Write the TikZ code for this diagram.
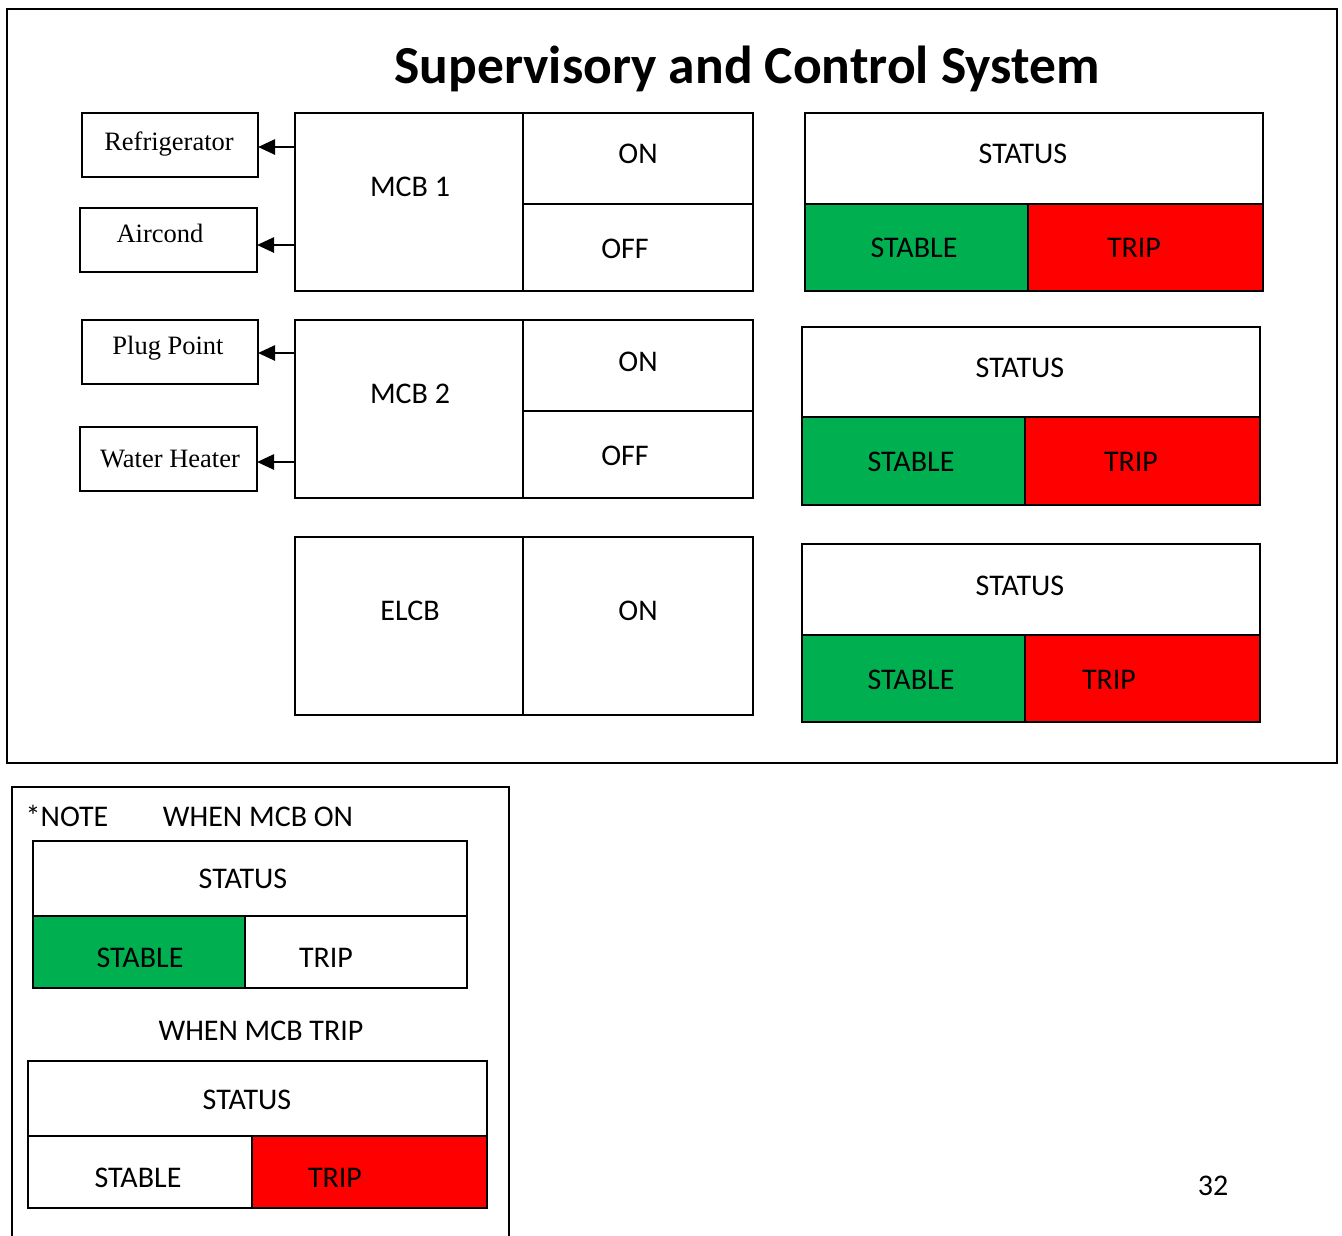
\documentclass[tikz,border=0pt]{standalone}
\usepackage{fontspec}
\setmainfont{Carlito}
\newfontfamily\devfont{Liberation Serif}
\usetikzlibrary{arrows.meta}
\definecolor{okgreen}{HTML}{00B050}
\definecolor{tripred}{HTML}{FF0000}

% \boxat{name}{x1}{y1}{x2}{y2}{options}: a rectangle given by its corners
\newcommand\boxat[6]{%
  \node[cellbox,minimum width={(#4)-(#2)},minimum height={(#5)-(#3)},#6]
    (#1) at ({((#2)+(#4))/2},{((#3)+(#5))/2}) {};}

\begin{document}
\begin{tikzpicture}[x=1pt,y=-1pt,
  cellbox/.style={draw, line width=2pt, rectangle, inner sep=0pt, outer sep=0pt},
  lbl/.style={anchor=base, inner sep=0pt, font=\fontsize{30}{35}\selectfont},
  dev/.style={anchor=base, inner sep=0pt, font=\devfont\fontsize{26.5}{30}\selectfont},
  feed/.style={line width=2.6pt, -{Triangle[length=17pt,width=15pt]}},
  frame/.style={draw, line width=2pt},
]
\useasboundingbox[fill=white] (0,0) rectangle (1342,1235);

% main panel
\draw[frame] (7,9) rectangle (1337,763);
\node[anchor=base, inner sep=0pt, font=\bfseries\fontsize{53.5}{60}\selectfont] (title)
  at (747,83) {Supervisory and Control System};

% loads
\boxat{refr}{82}{113}{258}{177}{}
\boxat{acon}{80}{208}{257}{272}{}
\boxat{plug}{82}{320}{258}{384}{}
\boxat{heat}{80}{427}{257}{491}{}
\node[dev] (trefr) at (169,150) {Refrigerator};
\node[dev] (tacon) at (160,242) {Aircond};
\node[dev] (tplug) at (168,354) {Plug Point};
\node[dev] (theat) at (170,467) {Water Heater};

% breakers
\boxat{mcba}{295}{113}{523}{291}{}
\boxat{mcbaon}{523}{113}{753}{204}{}
\boxat{mcbaoff}{523}{204}{753}{291}{}
\node[lbl] at (410,196) {MCB 1};
\node[lbl] at (638,163) {ON};
\node[lbl] at (625,258) {OFF};

\boxat{mcbb}{295}{320}{523}{498}{}
\boxat{mcbbon}{523}{320}{753}{411}{}
\boxat{mcbboff}{523}{411}{753}{498}{}
\node[lbl] at (410,403) {MCB 2};
\node[lbl] at (638,371) {ON};
\node[lbl] at (625,465) {OFF};

\boxat{elcb}{295}{537}{523}{715}{}
\boxat{elcbon}{523}{537}{753}{715}{}
\node[lbl] at (410,620) {ELCB};
\node[lbl] at (638,620) {ON};

% feeds to loads
\draw[feed] ([yshift=-2pt]refr.east -| mcba.west) -- ([yshift=-2pt]refr.east);
\draw[feed] ([yshift=-5pt]acon.east -| mcba.west) -- ([yshift=-5pt]acon.east);
\draw[feed] ([yshift=-1pt]plug.east -| mcbb.west) -- ([yshift=-1pt]plug.east);
\draw[feed] ([yshift=-3pt]heat.east -| mcbb.west) -- ([yshift=-3pt]heat.east);

% status indicators
\boxat{sta}{805}{113}{1263}{204}{}
\boxat{staok}{805}{204}{1028}{291}{fill=okgreen}
\boxat{statrip}{1028}{204}{1263}{291}{fill=tripred}
\node[lbl] at (1023,163) {STATUS};
\node[lbl] at (914,257) {STABLE};
\node[lbl] at (1134,257) {TRIP};

\boxat{stb}{802}{327}{1260}{417}{}
\boxat{stbok}{802}{417}{1025}{505}{fill=okgreen}
\boxat{stbtrip}{1025}{417}{1260}{505}{fill=tripred}
\node[lbl] at (1020,377) {STATUS};
\node[lbl] at (911,471) {STABLE};
\node[lbl] at (1131,471) {TRIP};

\boxat{stc}{802}{544}{1260}{635}{}
\boxat{stcok}{802}{635}{1025}{722}{fill=okgreen}
\boxat{stctrip}{1025}{635}{1260}{722}{fill=tripred}
\node[lbl] at (1020,595) {STATUS};
\node[lbl] at (911,689) {STABLE};
\node[lbl] at (1109,689) {TRIP};

% legend
\draw[frame] (12,1240) -- (12,787) -- (509,787) -- (509,1240);
\node[lbl] at (67,826) {*NOTE};
\node[lbl] at (258,826) {WHEN MCB ON};
\boxat{lga}{33}{841}{467}{916}{}
\boxat{lgaok}{33}{916}{245}{988}{fill=okgreen}
\boxat{lgatrip}{245}{916}{467}{988}{}
\node[lbl] at (243,888) {STATUS};
\node[lbl] at (140,967) {STABLE};
\node[lbl] at (326,967) {TRIP};

\node[lbl] at (261,1040) {WHEN MCB TRIP};
\boxat{lgb}{28}{1061}{487}{1136}{}
\boxat{lgbok}{28}{1136}{252}{1208}{}
\boxat{lgbtrip}{252}{1136}{487}{1208}{fill=tripred}
\node[lbl] at (247,1109) {STATUS};
\node[lbl] at (138,1187) {STABLE};
\node[lbl] at (335,1187) {TRIP};

% page number
\node[lbl] at (1213,1195) {32};
\end{tikzpicture}
\end{document}
